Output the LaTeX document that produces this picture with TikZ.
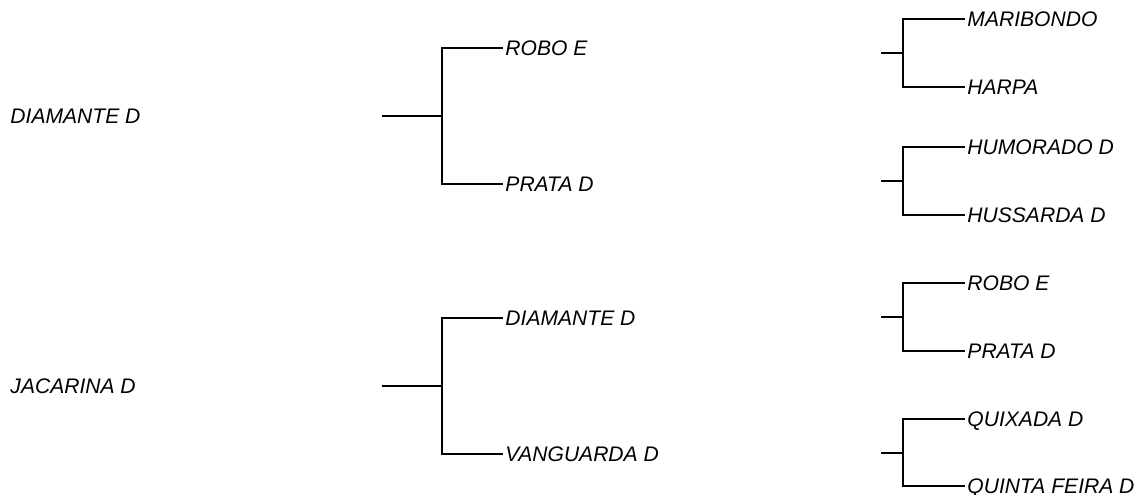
\documentclass[tikz,border=0pt]{standalone}
\usepackage{fontspec}
\setmainfont{Liberation Sans}

\begin{document}
\begin{tikzpicture}[x=0.75pt,y=-0.75pt,line width=1.7pt,
    nome/.style={anchor=west,inner sep=1pt,text depth=0pt,font=\fontsize{15.8}{19}\selectfont\itshape}]
    \useasboundingbox (0,0) rectangle (1140,495);

    % geracao 1
    \node[nome] (A) at (8,116)  {DIAMANTE D};
    \node[nome] (B) at (8,386)  {JACARINA D};

    % geracao 2
    \node[nome] (C) at (503,48)  {ROBO E};
    \node[nome] (D) at (503,184) {PRATA D};
    \node[nome] (E) at (503,318) {DIAMANTE D};
    \node[nome] (F) at (503,454) {VANGUARDA D};

    % geracao 3
    \node[nome] (G) at (965,19)  {MARIBONDO};
    \node[nome] (H) at (965,87)  {HARPA};
    \node[nome] (I) at (965,147) {HUMORADO D};
    \node[nome] (J) at (965,215) {HUSSARDA D};
    \node[nome] (K) at (965,283) {ROBO E};
    \node[nome] (L) at (965,351) {PRATA D};
    \node[nome] (M) at (965,419) {QUIXADA D};
    \node[nome] (N) at (965,486) {QUINTA FEIRA D};

    \coordinate (a1) at (382,116); \coordinate (a2) at (442,116);
    \coordinate (b1) at (382,386); \coordinate (b2) at (442,386);
    \coordinate (c1) at (881,53);  \coordinate (c2) at (903,53);
    \coordinate (d1) at (881,181); \coordinate (d2) at (903,181);
    \coordinate (e1) at (881,317); \coordinate (e2) at (903,317);
    \coordinate (f1) at (881,453); \coordinate (f2) at (903,453);

    \draw (a1) -- (a2) |- (C.west);
    \draw (a2) |- (D.west);
    \draw (b1) -- (b2) |- (E.west);
    \draw (b2) |- (F.west);
    \draw (c1) -- (c2) |- (G.west);
    \draw (c2) |- (H.west);
    \draw (d1) -- (d2) |- (I.west);
    \draw (d2) |- (J.west);
    \draw (e1) -- (e2) |- (K.west);
    \draw (e2) |- (L.west);
    \draw (f1) -- (f2) |- (M.west);
    \draw (f2) |- (N.west);
\end{tikzpicture}
\end{document}
